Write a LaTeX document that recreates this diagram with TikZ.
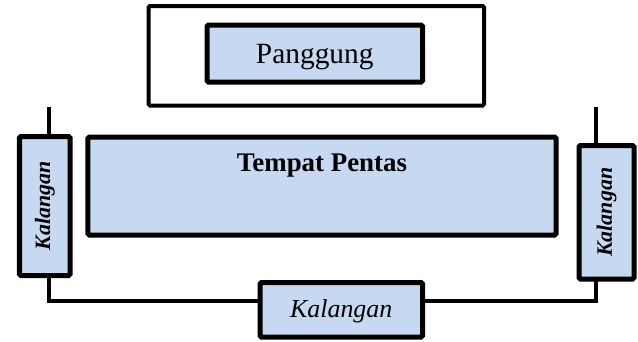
\documentclass[tikz,border=0pt]{standalone}
\usepackage{fontspec}
\setmainfont{Liberation Serif}
\definecolor{boxfill}{HTML}{C6D9F1}
\begin{document}
\begin{tikzpicture}[x=1bp,y=-1bp,
  area/.style={draw=black, fill=boxfill, line width=5bp, rounded corners=1.5bp,
    inner sep=0pt, outer sep=0pt},
  frame/.style={draw=black, line width=4bp, rounded corners=1.5bp, inner sep=0pt},
  wire/.style={draw=black, line width=4bp},
  sidelbl/.style={font=\fontsize{22}{26}\selectfont\bfseries\itshape, rotate=90}
]
\useasboundingbox (0,0) rectangle (638,341);

% stage enclosure and stage
\node[frame, minimum width=335.5bp, minimum height=99.6bp] (stage) at (316.25,55.8) {};
\node[area, minimum width=215.5bp, minimum height=57bp] (panggung) at (314.75,53.5) {};
\node[font=\fontsize{29.5}{34}\selectfont] (panggungtext) at ([yshift=-4bp]panggung.center) {Panggung};

% performance area
\node[area, minimum width=468bp, minimum height=98bp] (pentas) at (322,186) {};
\node[font=\fontsize{27}{31}\selectfont\bfseries] (pentastext) at (pentas.north |- 0,165.5) {Tempat Pentas};

% spectator areas
\node[area, minimum width=50.5bp, minimum height=139bp] (kleft) at (44.75,206) {};
\node[sidelbl] (kleftt) at (kleft) {Kalangan};
\node[area, minimum width=55bp, minimum height=133.5bp] (kright) at (606.5,212.25) {};
\node[sidelbl] (krightt) at (kright) {Kalangan};
\node[area, minimum width=162.5bp, minimum height=54.5bp] (kbottom) at (341.25,309.75) {};
\node[font=\fontsize{26}{30}\selectfont\itshape] (kbottomt) at ([yshift=-2bp]kbottom.center) {Kalangan};

% connecting lines
\coordinate (tl) at (49,106.5);
\coordinate (tr) at (596,106.5);
\coordinate (bl) at (49,301);
\coordinate (br) at (596,301);
\draw[wire] (tl) -- (tl |- kleft.north);
\draw[wire] (tr) -- (tr |- kright.north);
\draw[wire] (bl |- kleft.south) -- (bl) -- (kbottom.west |- bl);
\draw[wire] (br |- kright.south) -- (br) -- (kbottom.east |- br);
\end{tikzpicture}
\end{document}
